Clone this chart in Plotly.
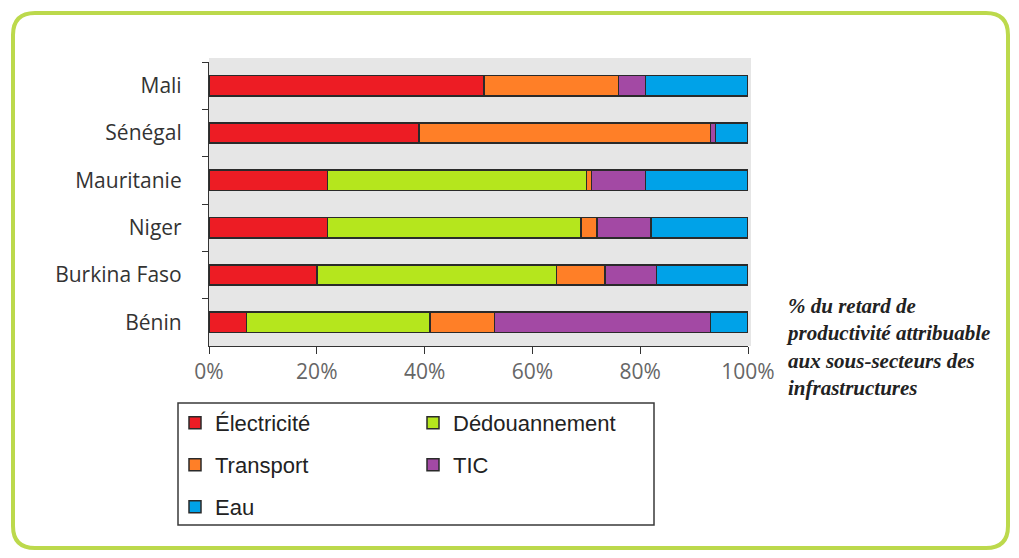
import plotly.graph_objects as go

countries = ["Mali", "Sénégal", "Mauritanie", "Niger", "Burkina Faso", "Bénin"]
electricite = [51, 39, 22, 22, 20, 7]
dedouannement = [0, 0, 48, 47, 44.5, 34]
transport = [25, 54, 1, 3, 9, 12]
tic = [5, 1, 10, 10, 9.5, 40]
eau = [19, 6, 19, 18, 17, 7]

series = [
    ("Électricité", electricite, "#ED1C24", "legend"),
    ("Dédouannement", dedouannement, "#B5E61D", "legend"),
    ("Transport", transport, "#FF7F27", "legend2"),
    ("TIC", tic, "#A349A4", "legend2"),
    ("Eau", eau, "#00A2E8", "legend3"),
]

W, H = 1019, 558
L, R, T, B = 209, 748, 62, 346  # plot area in pixels


def px(x):
    return (x - L) / (R - L)


def py(y):
    return (B - y) / (B - T)


fig = go.Figure()
for name, vals, color, lg in series:
    fig.add_trace(go.Bar(
        y=countries, x=[v / 100 for v in vals], name=name, orientation="h",
        marker=dict(color=color, line=dict(color="#2a2a2a", width=1.5)),
        legend=lg,
    ))

# rounded green frame
x0, y0, x1, y1, r = 13, 13, 1008, 548, 22
path = (
    f"M {px(x0 + r)},{py(y0)} L {px(x1 - r)},{py(y0)} "
    f"Q {px(x1)},{py(y0)} {px(x1)},{py(y0 + r)} "
    f"L {px(x1)},{py(y1 - r)} Q {px(x1)},{py(y1)} {px(x1 - r)},{py(y1)} "
    f"L {px(x0 + r)},{py(y1)} Q {px(x0)},{py(y1)} {px(x0)},{py(y1 - r)} "
    f"L {px(x0)},{py(y0 + r)} Q {px(x0)},{py(y0)} {px(x0 + r)},{py(y0)} Z"
)
shapes = [
    dict(type="path", path=path, xref="paper", yref="paper",
         line=dict(color="#BCD94C", width=4), layer="below"),
    dict(type="rect", xref="paper", yref="paper", x0=px(L), x1=px(751), y0=py(58), y1=py(B),
         fillcolor="#e6e6e6", line=dict(width=0), layer="below"),
    dict(type="rect", xref="paper", yref="paper", x0=px(178), x1=px(654), y0=py(403), y1=py(525),
         line=dict(color="#3a3a3a", width=1.5), fillcolor="rgba(0,0,0,0)"),
]

legend_common = dict(
    orientation="h", xref="container", yref="container", xanchor="left", yanchor="middle",
    font=dict(family="Liberation Sans, Arial, sans-serif", size=22, color="#222"),
    entrywidth=193, entrywidthmode="pixels", bgcolor="rgba(0,0,0,0)", borderwidth=0,
    itemclick=False, itemdoubleclick=False, traceorder="normal",
)

fig.update_layout(
    width=W, height=H,
    margin=dict(l=L, r=W - R, t=T, b=H - B),
    paper_bgcolor="white",
    plot_bgcolor="rgba(0,0,0,0)",
    barmode="stack",
    bargap=0.57,
    shapes=shapes,
    showlegend=True,
    legend=dict(legend_common, x=175 / W, y=1 - 423 / H),
    legend2=dict(legend_common, x=175 / W, y=1 - 465 / H),
    legend3=dict(legend_common, x=175 / W, y=1 - 507 / H),
    xaxis=dict(
        range=[0, 1], dtick=0.2, tickformat=".0%", showgrid=False, zeroline=False,
        showline=True, linecolor="#333", linewidth=1.2,
        ticks="outside", ticklen=7, tickcolor="#333",
        tickfont=dict(family="Open Sans, Arial, sans-serif", size=21, color="#666"),
        fixedrange=True,
    ),
    yaxis=dict(
        categoryorder="array", categoryarray=countries, autorange="reversed",
        showgrid=False, zeroline=False, showline=True, linecolor="#333", linewidth=1.2,
        ticks="outside", ticklen=6, tickcolor="#333", tickson="boundaries",
        ticklabelstandoff=22,
        tickfont=dict(family="Open Sans, Arial, sans-serif", size=21, color="#333"),
        fixedrange=True,
    ),
    annotations=[dict(
        text="% du retard de<br>productivité attribuable<br>aux sous-secteurs des<br>infrastructures",
        xref="paper", yref="paper", x=px(784), y=py(292), xanchor="left", yanchor="top",
        align="left", showarrow=False,
        font=dict(family="Liberation Serif, serif", size=21, color="#222", weight="bold", style="italic"),
    )],
)

fig.write_html("out.html")
